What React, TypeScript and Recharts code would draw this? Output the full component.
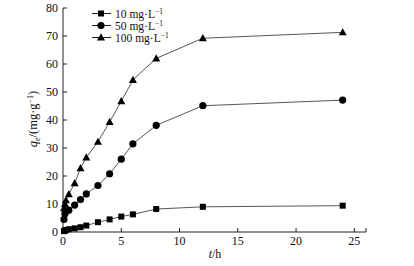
import React from "react";
import { LineChart, Line, XAxis, YAxis } from "recharts";

const times = [0.083, 0.167, 0.25, 0.5, 1, 1.5, 2, 3, 4, 5, 6, 8, 12, 24];
const q10 = [0.3, 0.5, 0.7, 1.0, 1.3, 1.7, 2.3, 3.5, 4.5, 5.5, 6.3, 8.2, 9.0, 9.4];
const q50 = [4.5, 6.5, 7.5, 7.8, 9.6, 11.6, 13.6, 16.6, 20.8, 26, 31.5, 38.1, 45.1, 47.1];
const q100 = [8.5, 10, 11.3, 13.5, 17.4, 22.8, 26.6, 32.2, 39.3, 46.7, 54.3, 62, 69.2, 71.3];
const seriesNames = ["10 mg·L", "50 mg·L", "100 mg·L"];
const xTicks = [0, 5, 10, 15, 20, 25, 26];
const yTicks = [0, 10, 20, 30, 40, 50, 60, 70, 80];

const data = times.map((t, i) => ({ t, a: q10[i], b: q50[i], c: q100[i] }));

const FONT = "'Liberation Serif', 'DejaVu Serif', serif";

const Square = (props: any) => {
  const { cx, cy } = props;
  if (cx == null || cy == null) return null;
  return <rect x={cx - 3} y={cy - 3} width={6} height={6} fill="#000" />;
};
const Circle = (props: any) => {
  const { cx, cy } = props;
  if (cx == null || cy == null) return null;
  return <circle cx={cx} cy={cy} r={3.6} fill="#000" />;
};
const Tri = (props: any) => {
  const { cx, cy } = props;
  if (cx == null || cy == null) return null;
  return <polygon points={`${cx},${cy - 4.2} ${cx - 4},${cy + 3} ${cx + 4},${cy + 3}`} fill="#000" />;
};

const markers = [Square, Circle, Tri];

const XTick = (props: any) => {
  const { x, y, payload } = props;
  if (payload.value === 26) return null;
  return (
    <text x={x} y={y} dy={8} textAnchor="middle" fontFamily={FONT} fontSize={12} fill="#111">
      {payload.value}
    </text>
  );
};

const YTick = (props: any) => {
  const { x, y, payload } = props;
  return (
    <text x={x} y={y} dy={4} textAnchor="end" fontFamily={FONT} fontSize={12} fill="#111">
      {payload.value}
    </text>
  );
};

export default function App() {
  return (
    <div style={{ position: "absolute", left: 0, top: 0, width: 414, height: 266, background: "#fff" }}>
      <LineChart width={414} height={266} data={data} margin={{ top: 8, right: 48, bottom: 4, left: 0 }}>
        <XAxis
          dataKey="t"
          type="number"
          domain={[0, 26]}
          ticks={xTicks}
          interval={0}
          tickSize={-4}
          tickMargin={9}
          tick={<XTick />}
          height={30}
          stroke="#222"
          tickLine={{ stroke: "#222" }}
        />
        <YAxis
          type="number"
          domain={[0, 80]}
          ticks={yTicks}
          interval={0}
          width={63}
          tickSize={-4}
          tickMargin={9}
          tick={<YTick />}
          stroke="#222"
          tickLine={{ stroke: "#222" }}
        />
        <Line dataKey="a" stroke="#444" strokeWidth={0.9} dot={<Square />} isAnimationActive={false} />
        <Line dataKey="b" stroke="#444" strokeWidth={0.9} dot={<Circle />} isAnimationActive={false} />
        <Line dataKey="c" stroke="#444" strokeWidth={0.9} dot={<Tri />} isAnimationActive={false} />
        <g>
          {seriesNames.map((n, i) => {
            const y = 13.5 + i * 12;
            const M = markers[i];
            return (
              <g key={n}>
                <line x1={92} x2={111} y1={y} y2={y} stroke="#222" strokeWidth={1} />
                <M cx={101} cy={y} />
                <text x={115} y={y + 4} fontFamily={FONT} fontSize={11.5} fill="#111">
                  {n}
                  <tspan dy={-4} fontSize={7.5}>−1</tspan>
                </text>
              </g>
            );
          })}
        </g>
        <text x={37} y={119} transform="rotate(-90 37 119)" textAnchor="middle" fontFamily={FONT} fontSize={12.5} fill="#111">
          <tspan fontStyle="italic">q</tspan>
          <tspan dy={3} fontSize={8}>e</tspan>
          <tspan dy={-3}>/(mg·g</tspan>
          <tspan dy={-4} fontSize={8}>−1</tspan>
          <tspan dy={4}>)</tspan>
        </text>
        <text x={215} y={258} textAnchor="middle" fontFamily={FONT} fontSize={12} fill="#111">
          <tspan fontStyle="italic">t</tspan>/h
        </text>
      </LineChart>
    </div>
  );
}
